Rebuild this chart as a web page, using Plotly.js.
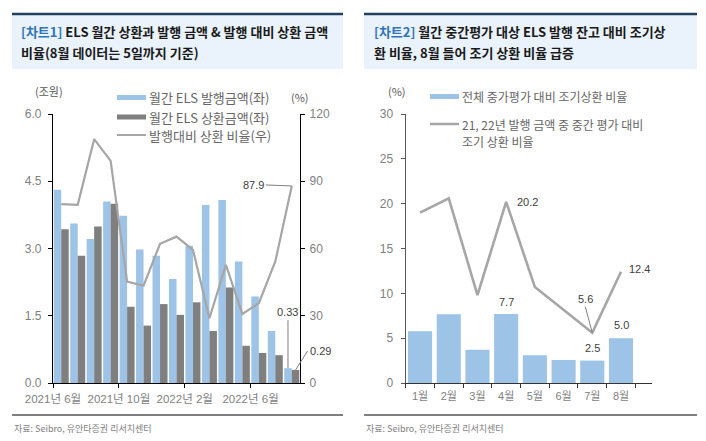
<!DOCTYPE html>
<html>
<head>
<meta charset="utf-8">
<script src="https://cdn.plot.ly/plotly-3.0.1.min.js"></script>
<style>html,body{margin:0;padding:0;background:#fff;}#chart{width:706px;height:441px;}</style>
</head>
<body>
<div id="chart"></div>
<script>
// ---- data ----
const months1 = ['2021년 6월','2021년 7월','2021년 8월','2021년 9월','2021년 10월','2021년 11월','2021년 12월',
                 '2022년 1월','2022년 2월','2022년 3월','2022년 4월','2022년 5월','2022년 6월','2022년 7월','2022년 8월'];
const issuance   = [4.31,3.56,3.21,4.05,3.73,2.98,2.84,2.32,3.06,3.97,4.08,2.71,1.93,1.16,0.33];
const redemption = [3.43,2.84,3.49,4.00,1.70,1.28,1.76,1.52,1.80,1.16,2.13,0.83,0.67,0.62,0.29];
const ratio      = [79.8,79.5,108.8,99.1,45.2,43.4,62.1,65.3,59.4,28.9,52.7,30.8,35.6,54.2,87.9];
const labelEvery = 4; // one tick label every 4 months

const months2   = ['1월','2월','3월','4월','5월','6월','7월','8월'];
const earlyAll  = [5.77,7.67,3.72,7.7,3.09,2.57,2.5,5.0];
const early2122 = [19.0,20.6,9.8,20.2,10.7,8.1,5.6,12.4];

const names1 = ['월간 ELS 발행금액(좌)','월간 ELS 상환금액(좌)','발행대비 상환 비율(우)'];
const names2 = ['전체 중가평가 대비 조기상환 비율','21, 22년 발행 금액 중 중간 평가 대비','조기 상환 비율'];

// ---- styles ----
const W = 706, H = 441;
const BLUE = '#9dc3e6', DGRAY = '#7f7f7f', LGRAY = '#a6a6a6';
const FONT = "'Liberation Sans', 'Noto Sans CJK KR', sans-serif";
const KFONT = "'Noto Sans CJK KR', sans-serif";
const px = x => x / W, py = y => 1 - y / H;

// month index positions for chart 1 (linear axis so that ticks sit on boundaries)
const idx1 = months1.map((m, i) => i);
const tickIdx = idx1.filter(i => i % labelEvery === 0);
const tickPos = tickIdx.map(i => i - 0.5);
const tickTxt = tickIdx.map(i => months1[i]);
const x1Left = 53, x1Right = 300;
const halfCat = (x1Right - x1Left) / months1.length / 2;

const traces = [
  {type:'bar', x: idx1, y: issuance, name: names1[0], marker:{color: BLUE}, xaxis:'x', yaxis:'y', hoverinfo:'skip'},
  {type:'bar', x: idx1, y: redemption, name: names1[1], marker:{color: DGRAY}, xaxis:'x', yaxis:'y', hoverinfo:'skip'},
  {type:'scatter', mode:'lines', x: idx1, y: ratio, name: names1[2], line:{color: LGRAY, width: 2.2}, xaxis:'x', yaxis:'y2', hoverinfo:'skip'},
  {type:'bar', x: months2, y: earlyAll, name: names2[0], marker:{color: BLUE}, width: 0.84, xaxis:'x2', yaxis:'y3', hoverinfo:'skip'},
  {type:'scatter', mode:'lines', x: months2, y: early2122, name: names2[1], line:{color: LGRAY, width: 2.6}, xaxis:'x2', yaxis:'y3', hoverinfo:'skip'}
];

const tickFont = {family: FONT, size: 12, color: '#7f7f7f'};
const xTickFont1 = {family: FONT, size: 11.5, color: '#7f7f7f'};
const xTickFont2 = {family: FONT, size: 11, color: '#7f7f7f'};

const shapes = [];
const annotations = [];

function titleBox(x0, x1) {
  shapes.push({type:'rect', xref:'paper', yref:'paper', x0:px(x0), x1:px(x1), y0:py(69), y1:py(14),
               fillcolor:'#eaf2fb', line:{width:0}, layer:'below'});
  shapes.push({type:'line', xref:'paper', yref:'paper', x0:px(x0), x1:px(x1), y0:py(14), y1:py(14),
               line:{color:'#23405f', width:2.5}});
  shapes.push({type:'line', xref:'paper', yref:'paper', x0:px(x0), x1:px(x1), y0:py(415), y1:py(415),
               line:{color:'#000', width:1.2}});
}
titleBox(12, 343);
titleBox(364, 697);

function txt(x, y, text, opt) {
  annotations.push(Object.assign({xref:'paper', yref:'paper', x:px(x), y:py(y), text:text, showarrow:false,
    xanchor:'left', yanchor:'middle', font:{family: KFONT, size: 12, color:'#666666'}}, opt || {}));
}
const TF = {family: KFONT, size: 13, color:'#1a1a1a'};
txt(19, 31, '<b><span style="color:#2e75b6">[차트1]</span> ELS 월간 상환과 발행 금액 &amp; 발행 대비 상환 금액</b>', {font: TF});
txt(19, 53, '<b>비율(8월 데이터는 5일까지 기준)</b>', {font: TF});
txt(372, 31, '<b><span style="color:#2e75b6">[차트2]</span> 월간 중간평가 대상 ELS 발행 잔고 대비 조기상</b>', {font: TF});
txt(372, 53, '<b>환 비율, 8월 들어 조기 상환 비율 급증</b>', {font: TF});

// sources
txt(12, 428, '자료: Seibro, 유안타증권 리서치센터', {font:{family: KFONT, size: 9, color:'#808080'}});
txt(364, 428, '자료: Seibro, 유안타증권 리서치센터', {font:{family: KFONT, size: 9, color:'#808080'}});

// units
txt(33, 91, '(조원)', {font:{family: KFONT, size: 11, color:'#595959'}});
txt(289, 97, '(%)', {font:{family: KFONT, size: 11, color:'#595959'}});
txt(386, 91, '(%)', {font:{family: KFONT, size: 11, color:'#595959'}});

// legend chart 1
function legLine(x0, x1, y, color, w) {
  shapes.push({type:'line', xref:'paper', yref:'paper', x0:px(x0), x1:px(x1), y0:py(y), y1:py(y), line:{color:color, width:w}});
}
const LG1 = {family: KFONT, size: 13, color:'#666666'};
legLine(117, 146, 97.5, BLUE, 5);
txt(147, 97.5, names1[0], {font: LG1});
legLine(117, 146, 117, DGRAY, 5);
txt(147, 117, names1[1], {font: LG1});
legLine(117, 146, 135, LGRAY, 2);
txt(147, 135, names1[2], {font: LG1});
// legend chart 2
legLine(430, 459, 96.5, BLUE, 5);
txt(460, 96.5, names2[0]);
legLine(430, 459, 124, LGRAY, 2.5);
txt(460, 124, names2[1]);
txt(460, 141, names2[2]);

// data labels
const LF = {family: FONT, size: 11, color:'#404040'};
const last = months1.length - 1;
annotations.push({xref:'x', yref:'y2', x: last, y: ratio[last], text: ratio[last].toFixed(1), showarrow:true,
  arrowhead:0, arrowwidth:1, arrowcolor:'#808080', ax:-26, ay:-1, xanchor:'right', font: LF, standoff:0});
annotations.push({xref:'x', yref:'y', x: last - 0.23, y: issuance[last], text: issuance[last].toFixed(2), showarrow:true,
  arrowhead:0, arrowwidth:1, arrowcolor:'#808080', ax:0, ay:-48, yanchor:'bottom', font: LF});
annotations.push({xref:'x', yref:'y', x: last + 0.23, y: redemption[last], text: redemption[last].toFixed(2), showarrow:true,
  arrowhead:0, arrowwidth:1, arrowcolor:'#808080', ax:12, ay:-19, xanchor:'left', font: LF});

annotations.push({xref:'x2', yref:'y3', x: 3, y: early2122[3], text: early2122[3].toFixed(1), showarrow:false,
  xshift: 21, font: LF});
annotations.push({xref:'x2', yref:'y3', x: 3, y: earlyAll[3], text: earlyAll[3].toFixed(1), showarrow:false,
  yanchor:'bottom', yshift: 4, font: LF});
annotations.push({xref:'x2', yref:'y3', x: 6, y: early2122[6], text: early2122[6].toFixed(1), showarrow:true,
  arrowhead:0, arrowwidth:1, arrowcolor:'#808080', ax:-7, ay:-26, yanchor:'bottom', font: LF});
annotations.push({xref:'x2', yref:'y3', x: 6, y: earlyAll[6], text: earlyAll[6].toFixed(1), showarrow:false,
  yanchor:'bottom', yshift: 5, font: LF});
annotations.push({xref:'x2', yref:'y3', x: 7, y: earlyAll[7], text: earlyAll[7].toFixed(1), showarrow:false,
  yanchor:'bottom', yshift: 5, font: LF});
annotations.push({xref:'x2', yref:'y3', x: 7, y: early2122[7], text: early2122[7].toFixed(1), showarrow:false,
  xanchor:'left', xshift: 6, yshift: 3, font: LF});

const yDom = [py(383), py(114)];
const layout = {
  width: W, height: H,
  margin: {l:0, r:0, t:0, b:0},
  paper_bgcolor:'#fff', plot_bgcolor:'rgba(0,0,0,0)',
  showlegend: false,
  barmode: 'group', bargap: 0.09, bargroupgap: 0,
  font: {family: FONT},
  xaxis: {domain:[px(x1Left), px(x1Right)], anchor:'y', type:'linear', range:[-0.5, months1.length - 0.5],
          tickmode:'array', tickvals: tickPos, ticktext: tickTxt, ticklabelshift: halfCat, ticklabelstandoff: 1,
          tickangle: 0, ticks:'outside', ticklen: 4, tickcolor:'#000', showline:true, linecolor:'#000', linewidth:1.2,
          showgrid:false, zeroline:false, tickfont: xTickFont1},
  yaxis: {domain: yDom, anchor:'x', range:[0, 6], dtick: 1.5, tickformat:'.1f', ticks:'outside', ticklen:4,
          tickcolor:'#000', showline:true, linecolor:'#000', linewidth:1.2, showgrid:false, zeroline:false,
          tickfont: tickFont, ticklabelstandoff: 4},
  yaxis2: {overlaying:'y', anchor:'x', side:'right', range:[0, 120], dtick: 30, ticks:'outside', ticklen:4,
          tickcolor:'#000', showline:true, linecolor:'#000', linewidth:1.2, showgrid:false, zeroline:false,
          tickfont: tickFont, ticklabelstandoff: 2},
  xaxis2: {domain:[px(405.7), px(652)], anchor:'y3', type:'category', tickson:'boundaries', tickangle: 0,
          ticklabelstandoff: 3,
          ticks:'outside', ticklen: 4, tickcolor:'#333', showline:true, linecolor:'#333', linewidth:1.2,
          showgrid:false, tickfont: xTickFont2},
  yaxis3: {domain: yDom, anchor:'x2', range:[0, 30], dtick: 5, ticks:'outside', ticklen:4,
          tickcolor:'#595959', showline:true, linecolor:'#595959', linewidth:1.2, showgrid:false, zeroline:false,
          tickfont: tickFont, ticklabelstandoff: 5},
  shapes: shapes,
  annotations: annotations
};

Plotly.newPlot('chart', traces, layout, {displayModeBar:false, staticPlot:true});
</script>
</body>
</html>
